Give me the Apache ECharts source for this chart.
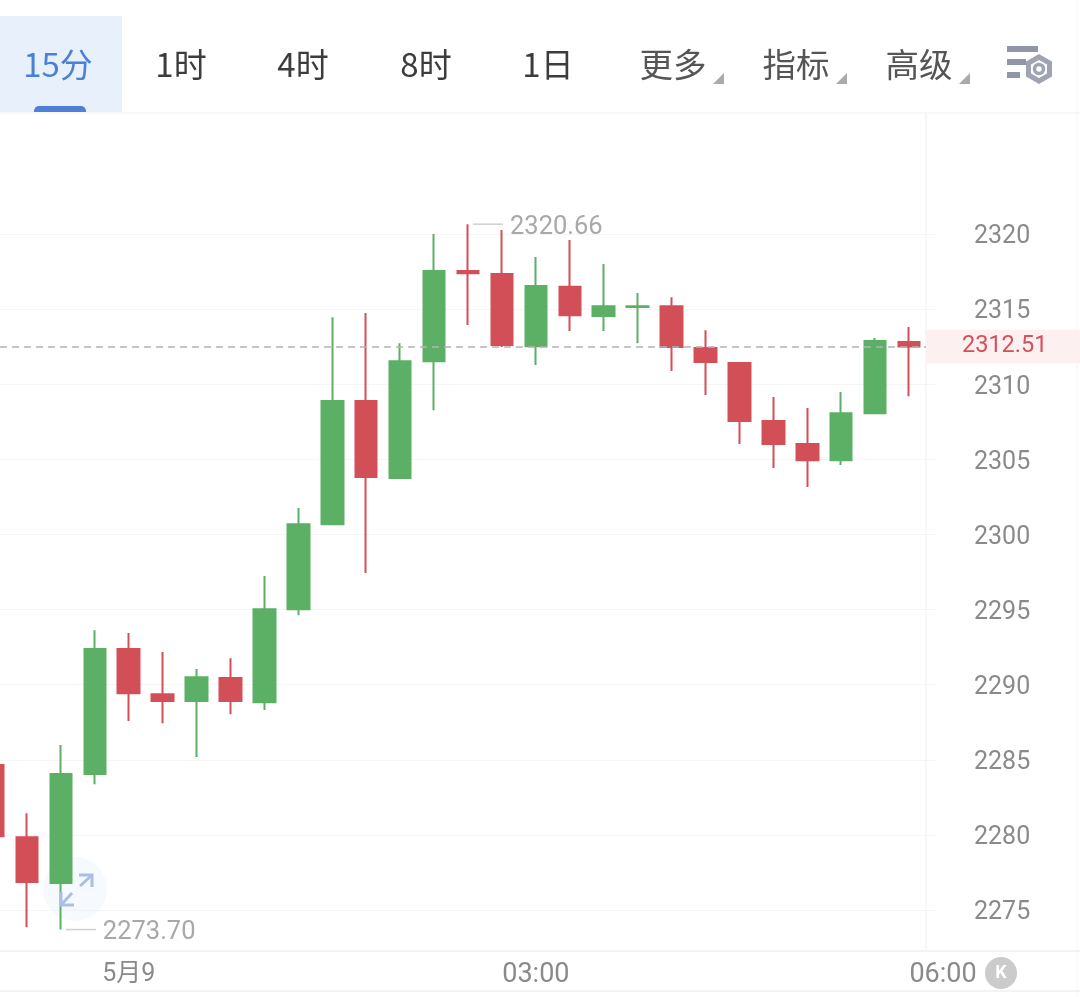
<!DOCTYPE html>
<html>
<head>
<meta charset="utf-8">
<style>html,body{margin:0;padding:0;background:#fff}#c{width:1080px;height:997px}</style>
<script src="https://cdn.jsdelivr.net/npm/echarts@6/dist/echarts.min.js"></script>
</head>
<body>
<div id="c"></div>
<script>
const times = ['23:00','23:15','23:30','23:45','5月9','00:15','00:30','00:45','01:00','01:15','01:30','01:45','02:00','02:15','02:30','02:45','03:00','03:15','03:30','03:45','04:00','04:15','04:30','04:45','05:00','05:15','05:30','05:45','06:00'];
const opens  = [2284.65,2279.85,2276.80,2284.05,2292.37,2289.37,2288.91,2290.44,2288.84,2295.03,2300.69,2308.88,2303.76,2311.54,2317.55,2317.34,2312.54,2316.50,2314.54,2315.15,2315.20,2312.41,2311.41,2307.55,2306.02,2304.95,2308.08,2312.81];
const closes = [2279.92,2276.86,2284.05,2292.37,2289.44,2288.91,2290.50,2288.91,2295.03,2300.69,2308.88,2303.82,2311.54,2317.54,2317.40,2312.61,2316.54,2314.60,2315.20,2315.20,2312.48,2311.48,2307.55,2306.02,2304.95,2308.08,2312.88,2312.51];
const lows   = [2279.00,2273.86,2273.70,2283.38,2287.58,2287.44,2285.18,2288.04,2288.31,2294.63,2300.69,2297.43,2303.76,2308.28,2313.94,2312.48,2311.28,2313.54,2313.54,2312.74,2310.88,2309.28,2306.02,2304.42,2303.16,2304.62,2308.08,2309.21];
const highs  = [2286.00,2281.45,2285.98,2293.63,2293.44,2292.17,2291.04,2291.77,2297.23,2301.76,2314.47,2314.74,2312.74,2320.00,2320.66,2320.27,2318.47,2319.60,2318.00,2316.07,2315.80,2313.60,2311.41,2309.15,2308.42,2309.48,2313.08,2313.81];
const yTicks = [2275,2280,2285,2290,2295,2300,2305,2310,2315,2320];
const lastPrice = 2312.51, highMark = 2320.66, lowMark = 2273.70;
const tabs = ['15分','1时','4时','8时','1日'];
const menus = ['更多','指标','高级'];

const GREEN = '#5bb065', RED = '#d34f58', GRID = '#f5f5f5', MUTED = '#a8a8a8', AXIS = '#8a8a8a';
const FONT = 'Roboto, "Noto Sans CJK SC", sans-serif';
const CJK = '"Noto Sans CJK SC", sans-serif';

const tabX = [58, 181, 303, 426, 548];
const menuX = [673, 796, 919];
const triX = [724, 847, 970];

const graphics = [
  {type:'rect', shape:{x:0,y:16,width:122,height:96}, style:{fill:'#e8f0fb'}, z:10},
  {type:'rect', shape:{x:34,y:106,width:52,height:6,r:[5,5,0,0]}, style:{fill:'#4f80d8'}, z:11},
  {type:'rect', shape:{x:0,y:112.5,width:1080,height:1}, style:{fill:'#f2f2f2'}, z:10},
  {type:'rect', shape:{x:925.5,y:113,width:1,height:837}, style:{fill:'#f0f0f0'}, z:1},
  {type:'rect', shape:{x:1076.5,y:0,width:1,height:997}, style:{fill:'#f6f6f6'}, z:1},
  {type:'rect', shape:{x:0,y:950,width:1080,height:2}, style:{fill:'#f3f3f3'}, z:1},
  {type:'rect', shape:{x:0,y:990,width:1080,height:2}, style:{fill:'#f3f3f3'}, z:1},
  {type:'circle', shape:{cx:1001,cy:973,r:16}, style:{fill:'#cbcbcb'}, z:10},
  {type:'text', style:{x:1001,y:973,text:'K',fill:'#fff',font:'bold 18px '+FONT,textAlign:'center',textVerticalAlign:'middle'}, z:11},
  {type:'circle', shape:{cx:75,cy:889,r:32}, style:{fill:'rgba(232,239,251,0.4)'}, z:1},
  {type:'polyline', shape:{points:[[80,886],[91,876]]}, style:{stroke:'#a9bfe6',lineWidth:3,fill:null}, z:13},
  {type:'polyline', shape:{points:[[79,875],[92,875],[92,887]]}, style:{stroke:'#a9bfe6',lineWidth:3,fill:null}, z:13},
  {type:'polyline', shape:{points:[[72,893],[62,904]]}, style:{stroke:'#a9bfe6',lineWidth:3,fill:null}, z:13},
  {type:'polyline', shape:{points:[[61,892],[61,905],[74,905]]}, style:{stroke:'#a9bfe6',lineWidth:3,fill:null}, z:13},
  {type:'rect', shape:{x:1007,y:46,width:31,height:6}, style:{fill:'#9195a8'}, z:10},
  {type:'rect', shape:{x:1007,y:59,width:19,height:6}, style:{fill:'#9195a8'}, z:10},
  {type:'rect', shape:{x:1007,y:72,width:13,height:6}, style:{fill:'#9195a8'}, z:10},
  {type:'polygon', shape:{points:[[1039,57],[1049.5,63],[1049.5,75],[1039,81],[1028.5,75],[1028.5,63]]}, style:{fill:'#fff',stroke:'#a0a4b2',lineWidth:5}, z:10},
  {type:'circle', shape:{cx:1039,cy:69,r:4.5}, style:{fill:'#fff',stroke:'#a0a4b2',lineWidth:3.5}, z:11}
];
tabs.forEach((t,i)=>graphics.push({type:'text', style:{x:tabX[i],y:64,text:t,fill:i===0?'#4a80d6':'#3c3c3c',font:'33px '+CJK,textAlign:'center',textVerticalAlign:'middle'}, z:12}));
menus.forEach((t,i)=>{
  graphics.push({type:'text', style:{x:menuX[i],y:64,text:t,fill:'#555',font:'33.5px '+CJK,textAlign:'center',textVerticalAlign:'middle'}, z:12});
  graphics.push({type:'polygon', shape:{points:[[triX[i],73],[triX[i],84],[triX[i]-11,84]]}, style:{fill:'#aaa'}, z:12});
});

function peak(value, idx){
  return {
    coord:[idx, value], value,
    symbol:'rect', symbolSize:[30,1.5], symbolOffset:[20,0],
    itemStyle:{color:'#cfcfcf'},
    label:{show:true, position:'right', distance:7, formatter:()=>value.toFixed(2), color:MUTED, fontSize:25.5, fontFamily:FONT, verticalAlign:'top', lineHeight:6}
  };
}

const chart = echarts.init(document.getElementById('c'), null, {renderer:'canvas'});
chart.setOption({
  animation:false,
  backgroundColor:'#fff',
  graphic:graphics,
  grid:[
    {left:-24, top:113, width:950, height:837, outerBoundsMode:'none'},
    {left:-24, top:950, width:984, height:1, outerBoundsMode:'none'}
  ],
  xAxis:[
    {type:'category', gridIndex:0, data:times.slice(0,-1), axisLine:{show:false}, axisTick:{show:false}, axisLabel:{show:false}, splitLine:{show:false}},
    {type:'category', gridIndex:1, data:times, axisLine:{show:false}, axisTick:{show:false}, splitLine:{show:false},
     axisLabel:{interval:(i)=>i%12===4, margin:11, color:AXIS, fontSize:27, fontFamily:FONT, hideOverlap:false,
       formatter:(v)=>v.indexOf('月')>=0 ? '{d|'+v+'}' : v,
       rich:{d:{fontSize:25, fontFamily:FONT, color:AXIS}}}}
  ],
  yAxis:[
    {type:'value', gridIndex:0, position:'right', min:2272.34, max:2328.06, scale:true,
     axisLine:{show:false},
     axisTick:{show:true, length:10, lineStyle:{color:GRID}, customValues:yTicks},
     axisLabel:{customValues:yTicks, formatter:(v)=>String(v), color:AXIS, fontSize:25, fontFamily:FONT, margin:48, verticalAlign:'top', lineHeight:6},
     splitLine:{show:true, lineStyle:{color:GRID, width:1}}},
    {type:'value', gridIndex:1, show:false}
  ],
  series:[{
    type:'candlestick',
    xAxisIndex:0, yAxisIndex:0,
    barWidth:22,
    data:opens.map((o,i)=>[o,closes[i],lows[i],highs[i]]),
    itemStyle:{color:GREEN,color0:RED,borderColor:GREEN,borderColor0:RED,borderWidth:2},
    markLine:{
      silent:true, symbol:'none', animation:false,
      lineStyle:{color:'#b4b4b4',type:[7,5],width:1.5},
      label:{show:true, position:'end', distance:0, formatter:()=>lastPrice.toFixed(2), color:'#d4505a', fontSize:23.5, fontFamily:FONT,
             backgroundColor:'#fdf0f0', padding:[10,38,0,36]},
      data:[{yAxis:lastPrice}]
    },
    markPoint:{silent:true, animation:false, data:[peak(highMark,14), peak(lowMark,2)]}
  }]
});
</script>
</body>
</html>
